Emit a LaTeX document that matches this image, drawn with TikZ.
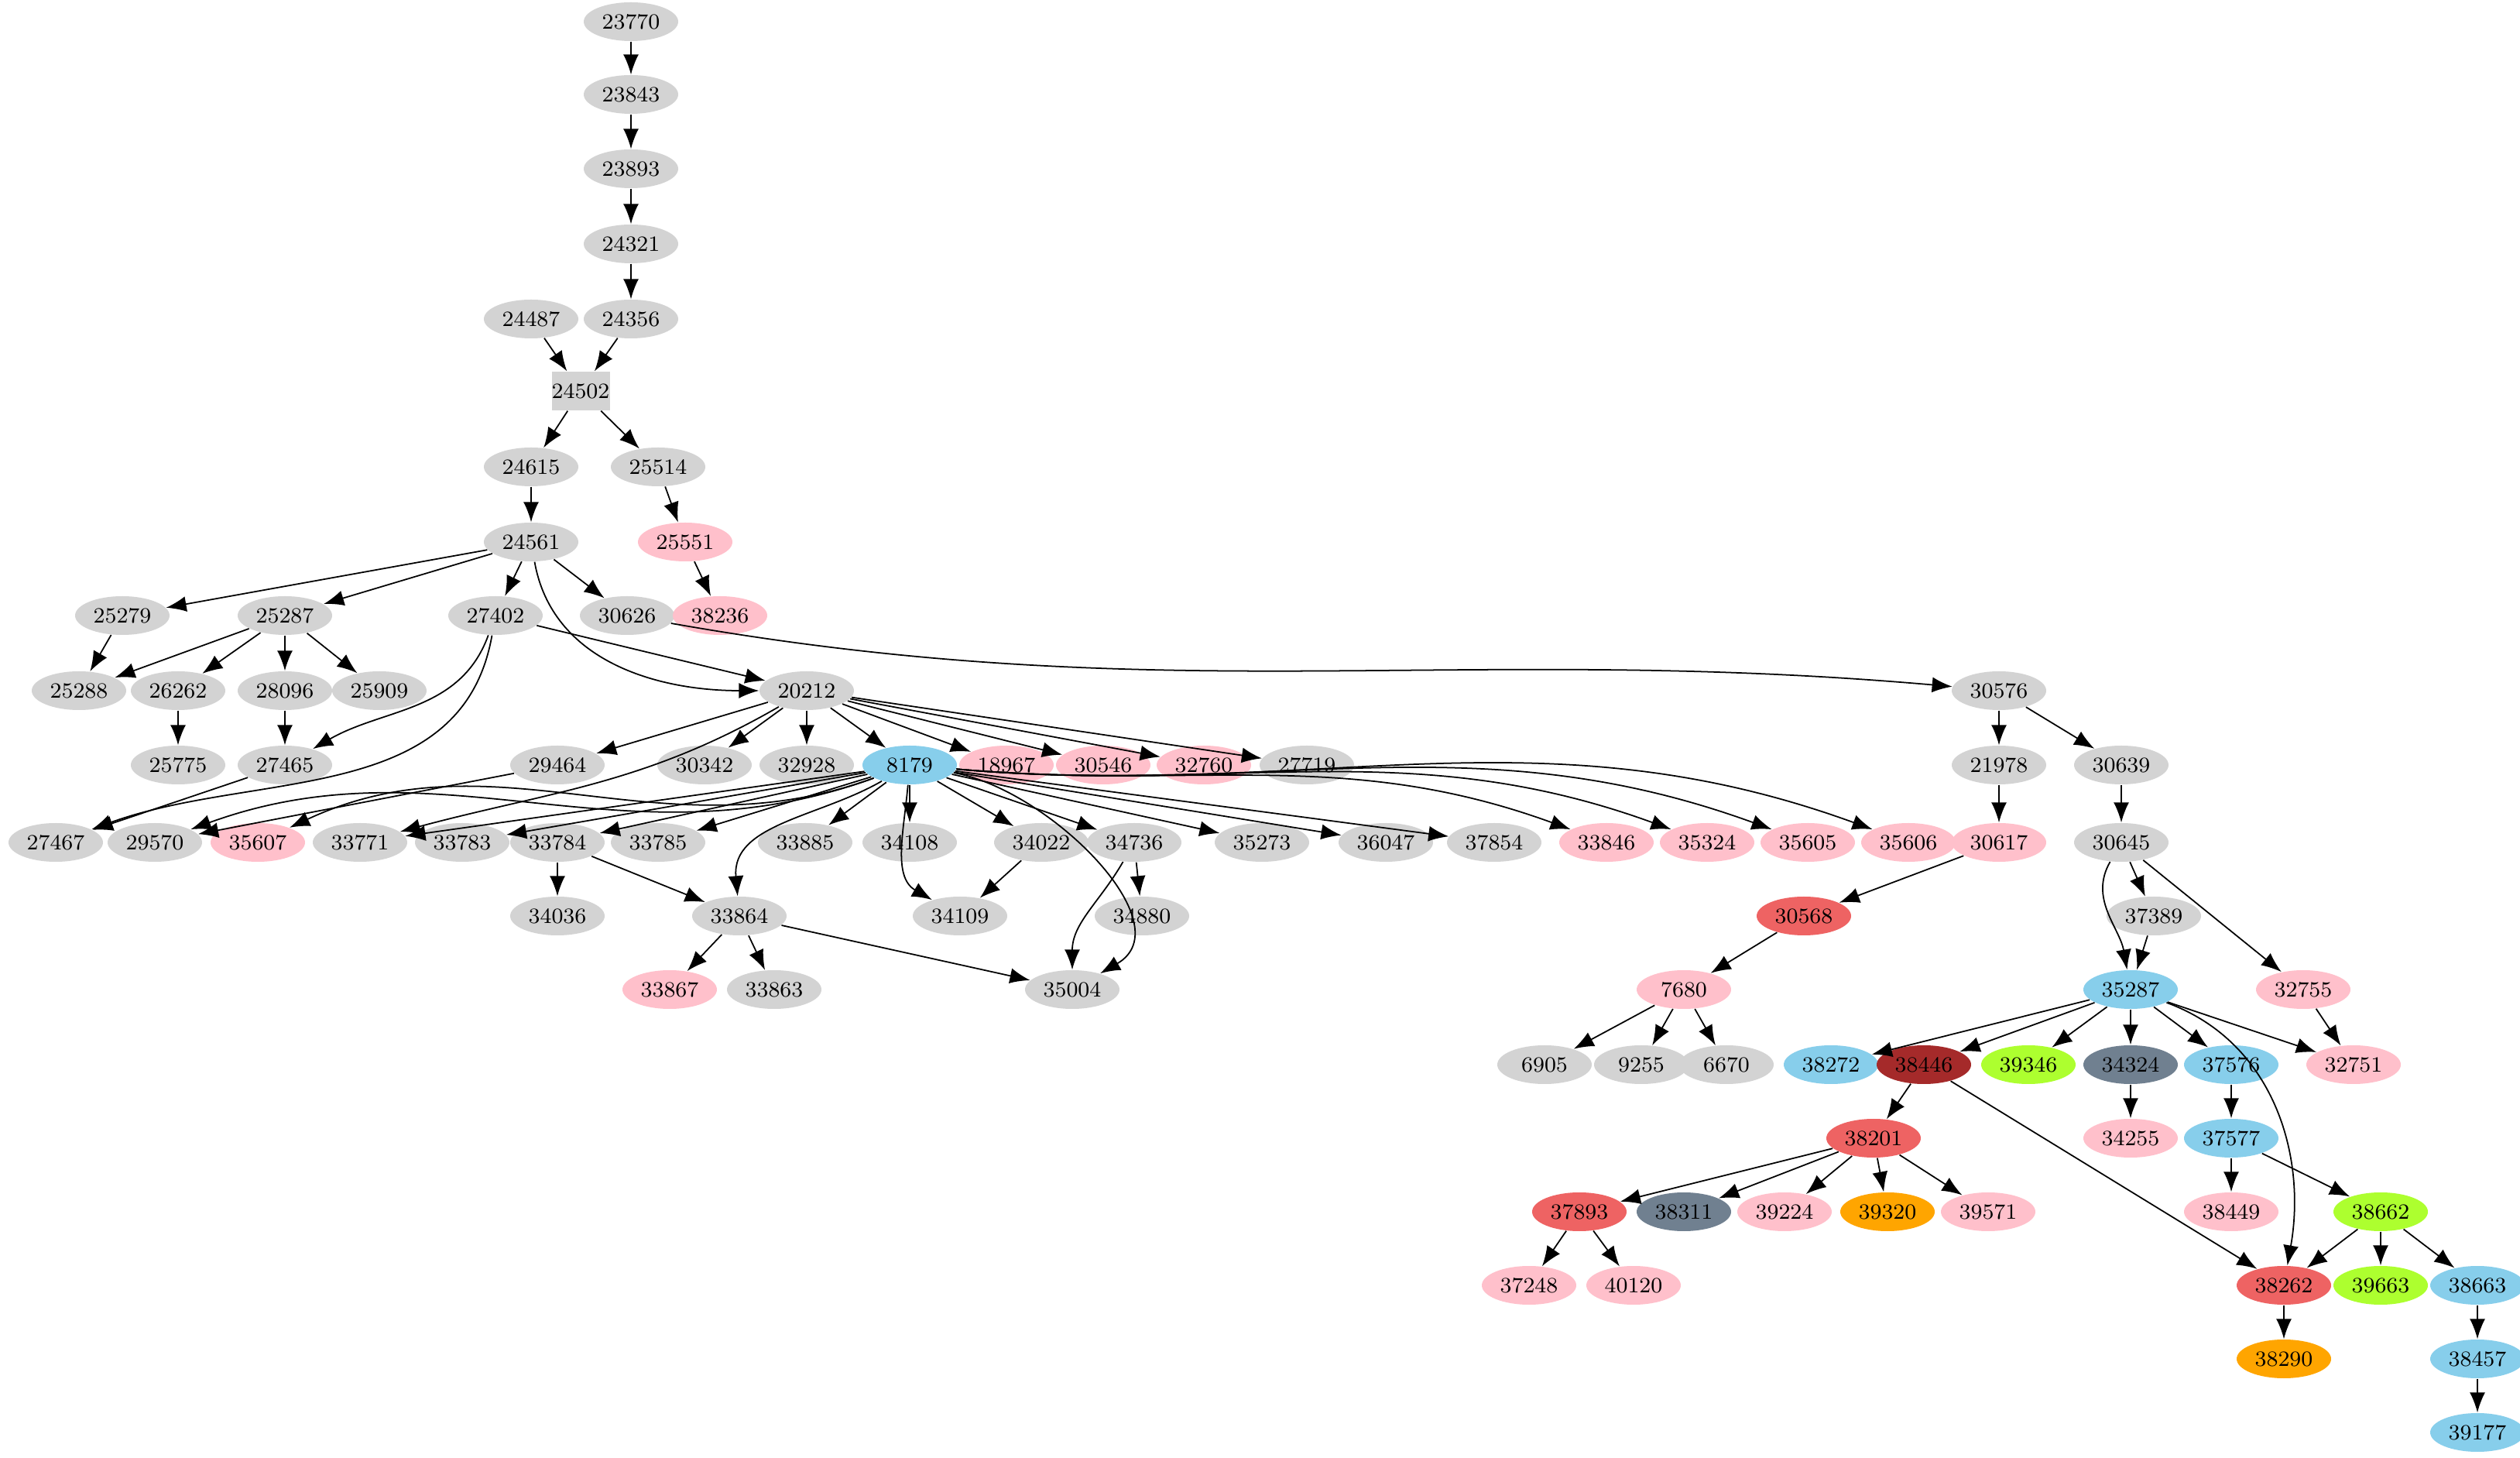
\documentclass[tikz,border=0pt]{standalone}
\usetikzlibrary{arrows.meta,shapes.geometric}
\definecolor{gy}{RGB}{211,211,211}
\definecolor{pk}{RGB}{255,192,203}
\definecolor{sb}{RGB}{135,206,235}
\definecolor{rd}{RGB}{238,99,99}
\definecolor{br}{RGB}{165,42,42}
\definecolor{sl}{RGB}{112,128,144}
\definecolor{gr}{RGB}{173,255,47}
\definecolor{og}{RGB}{255,165,0}
\tikzset{nd/.style={ellipse,fill=gy,minimum width=1.22cm,minimum height=0.5cm,inner sep=0pt,font=\footnotesize},
pk/.style={fill=pk},sb/.style={fill=sb},rd/.style={fill=rd},br/.style={fill=br},sl/.style={fill=sl},gr/.style={fill=gr},og/.style={fill=og},
e/.style={-{Latex[length=2.6mm,width=2mm]},line width=0.5pt}}
\newcommand{\NN}[4][]{\node[nd,#1] (n#2) at (#3/100,-#4/100) {#2};}
\begin{document}
\begin{tikzpicture}
\useasboundingbox (0,0) rectangle (32.55,-18.83);
\NN{23770}{815}{28}\NN{23843}{815}{122}\NN{23893}{815}{218}\NN{24321}{815}{315}
\NN{24487}{686}{412}\NN{24356}{815}{412}
\node[fill=gy,minimum width=0.75cm,minimum height=0.5cm,inner sep=0pt,font=\footnotesize] (n24502) at (7.5,-5.05) {24502};
\NN{24615}{686}{603}\NN{25514}{850}{603}
\NN{24561}{686}{700}\NN[pk]{25551}{885}{700}
\NN{25279}{158}{795}\NN{25287}{368}{795}\NN{27402}{640}{795}\NN{30626}{810}{795}\NN[pk]{38236}{930}{795}
\NN{25288}{102}{892}\NN{26262}{230}{892}\NN{28096}{368}{892}\NN{25909}{490}{892}\NN{20212}{1042}{892}\NN{30576}{2582}{892}
\NN{25775}{230}{988}\NN{27465}{368}{988}\NN{29464}{720}{988}\NN{30342}{910}{988}\NN{32928}{1042}{988}\NN[sb]{8179}{1175}{988}
\NN[pk]{18967}{1300}{988}\NN[pk]{30546}{1425}{988}\NN[pk]{32760}{1555}{988}\NN{27719}{1688}{988}\NN{21978}{2582}{988}\NN{30639}{2740}{988}
\NN{27467}{72}{1088}\NN{29570}{200}{1088}\NN[pk]{35607}{333}{1088}\NN{33771}{465}{1088}\NN{33783}{597}{1088}\NN{33784}{720}{1088}
\NN{33785}{850}{1088}\NN{33885}{1040}{1088}\NN{34108}{1175}{1088}\NN{34022}{1345}{1088}\NN{34736}{1465}{1088}\NN{35273}{1630}{1088}
\NN{36047}{1790}{1088}\NN{37854}{1930}{1088}\NN[pk]{33846}{2075}{1088}\NN[pk]{35324}{2205}{1088}\NN[pk]{35605}{2335}{1088}\NN[pk]{35606}{2465}{1088}
\NN[pk]{30617}{2582}{1088}\NN{30645}{2740}{1088}
\NN{34036}{720}{1183}\NN{33864}{955}{1183}\NN{34109}{1240}{1183}\NN{34880}{1475}{1183}\NN[rd]{30568}{2330}{1183}\NN{37389}{2782}{1183}
\NN[pk]{33867}{865}{1278}\NN{33863}{1000}{1278}\NN{35004}{1385}{1278}\NN[pk]{7680}{2175}{1278}\NN[sb]{35287}{2752}{1278}\NN[pk]{32755}{2975}{1278}
\NN{6905}{1995}{1375}\NN{9255}{2120}{1375}\NN{6670}{2230}{1375}\NN[sb]{38272}{2365}{1375}\NN[br]{38446}{2485}{1375}\NN[gr]{39346}{2620}{1375}
\NN[sl]{34324}{2752}{1375}\NN[sb]{37576}{2882}{1375}\NN[pk]{32751}{3040}{1375}
\NN[rd]{38201}{2420}{1470}\NN[pk]{34255}{2752}{1470}\NN[sb]{37577}{2882}{1470}
\NN[rd]{37893}{2040}{1565}\NN[sl]{38311}{2175}{1565}\NN[pk]{39224}{2305}{1565}\NN[og]{39320}{2438}{1565}\NN[pk]{39571}{2568}{1565}\NN[pk]{38449}{2882}{1565}\NN[gr]{38662}{3075}{1565}
\NN[pk]{37248}{1975}{1660}\NN[pk]{40120}{2110}{1660}\NN[rd]{38262}{2950}{1660}\NN[gr]{39663}{3075}{1660}\NN[sb]{38663}{3200}{1660}
\NN[og]{38290}{2950}{1755}\NN[sb]{38457}{3200}{1755}\NN[sb]{39177}{3200}{1850}
\foreach \a/\b in {23770/23843,23843/23893,23893/24321,24321/24356,24356/24502,24487/24502,24502/24615,24502/25514,24615/24561,25514/25551,25551/38236,
24561/25279,24561/25287,24561/27402,24561/30626,25279/25288,25287/25288,25287/26262,25287/28096,25287/25909,26262/25775,28096/27465,27402/20212,27465/27467,29464/29570,
20212/29464,20212/30342,20212/32928,20212/8179,20212/18967,20212/30546,20212/32760,20212/27719,
8179/33771,8179/33783,8179/33784,8179/33785,8179/33885,8179/34108,8179/34022,8179/34736,8179/35273,8179/36047,8179/37854,
33784/34036,33784/33864,33864/33867,33864/33863,33864/35004,34022/34109,34736/34880,
30576/21978,30576/30639,21978/30617,30617/30568,30568/7680,7680/6905,7680/9255,7680/6670,30639/30645,30645/37389,30645/32755,37389/35287,32755/32751,
35287/38272,35287/38446,35287/39346,35287/34324,35287/37576,35287/32751,38446/38201,38446/38262,34324/34255,37576/37577,37577/38449,37577/38662,
38662/38262,38662/39663,38662/38663,38262/38290,38663/38457,38457/39177,38201/37893,38201/38311,38201/39224,38201/39320,38201/39571,37893/37248,37893/40120}
{\draw[e] (n\a) -- (n\b);}
\draw[e] (n24561) to[out=-80,in=180] (n20212);
\draw[e] (n27402) to[out=-110,in=30] (n27465);
\draw[e] (n27402) to[out=-100,in=20] (n27467);
\draw[e] (n30626) to[out=-10,in=175] (n30576);
\draw[e] (n20212) to[out=-150,in=15] (n33771);
\draw[e] (n8179) to[out=-160,in=20] (n29570);
\draw[e] (n8179) to[out=-160,in=25] (n35607);
\draw[e] (n8179) to[out=-150,in=95] (n33864);
\draw[e] (n8179) to[out=-95,in=150] (n34109);
\draw[e] (n8179) to[out=-10,in=30] (n35004);
\draw[e] (n34736) to[out=-120,in=90] (n35004);
\foreach \t in {33846,35324,35605,35606} \draw[e] (n8179) to[out=-5,in=160] (n\t);
\draw[e] (n30645) to[out=-120,in=100] (n35287);
\draw[e] (n35287) to[out=-20,in=80] (n38262);
\end{tikzpicture}
\end{document}
